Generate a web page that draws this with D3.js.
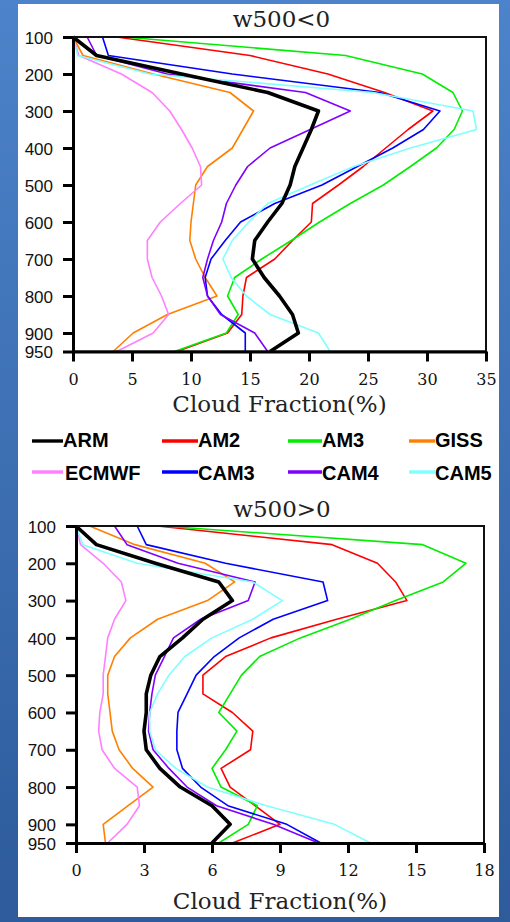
<!DOCTYPE html>
<html>
<head>
<meta charset="utf-8">
<script src="https://cdn.jsdelivr.net/npm/d3@7"></script>
<style>
  html, body { margin: 0; padding: 0; }
  body { width: 510px; height: 922px; overflow: hidden; }
</style>
</head>
<body>
<svg id="chart" width="510" height="922"></svg>
<script>
// Pressure levels (hPa), shared by every profile
const levels = [100, 150, 200, 250, 300, 350, 400, 450, 500, 550, 600, 650, 700, 750, 800, 850, 900, 950];
const yTicks = [100, 200, 300, 400, 500, 600, 700, 800, 900, 950];

// Model / observation names and colours
const models = ["ARM", "AM2", "AM3", "GISS", "ECMWF", "CAM3", "CAM4", "CAM5"];
const modelColors = ["#000000", "#ff0000", "#00ee00", "#ff8000", "#ff80ff", "#0000ff", "#8000ff", "#80ffff"];

// Cloud fraction (%) profiles, ascending regime (w500 < 0)
const armNeg   = [0, 2.0, 9.2, 16.5, 20.8, 20.2, 19.5, 18.8, 18.4, 17.7, 16.5, 15.4, 15.2, 16.2, 17.5, 18.6, 19.1, 16.7];
const am2Neg   = [3.7, 15.0, 21.6, 26.4, 30.5, 28.4, 26.5, 24.6, 22.5, 20.3, 20.2, 18.6, 17.1, 14.7, 14.4, 14.3, 13.1, 8.8];
const am3Neg   = [4.3, 23.1, 29.6, 32.2, 33.0, 32.3, 30.8, 28.6, 26.3, 23.5, 20.9, 18.5, 16.0, 13.7, 13.1, 14.0, 13.0, 8.6];
const gissNeg  = [0, 0.85, 6.8, 13.3, 15.3, 14.4, 13.5, 11.4, 10.4, 10.2, 10.0, 9.9, 10.4, 11.2, 12.2, 8.0, 5.1, 3.4];
const ecmwfNeg = [0, 0.5, 4.1, 6.7, 8.2, 9.2, 10.1, 10.8, 10.9, 9.1, 7.4, 6.3, 6.3, 6.7, 7.5, 8.1, 6.8, 3.7];
const cam3Neg  = [2.5, 3.0, 13.5, 26.0, 31.1, 29.7, 27.1, 24.1, 21.1, 17.1, 14.2, 12.9, 11.7, 11.2, 11.4, 12.6, 14.6, 14.6];
const cam4Neg  = [1.2, 2.0, 8.0, 19.7, 23.5, 20.1, 16.7, 14.8, 13.8, 13.0, 12.6, 11.9, 11.4, 11.0, 11.4, 12.5, 15.4, 16.5];
const cam5Neg  = [0, 0.4, 6.5, 25.4, 33.9, 34.2, 28.6, 23.8, 20.1, 16.5, 14.9, 13.5, 12.7, 13.4, 14.7, 16.7, 20.8, 21.8];

// Cloud fraction (%) profiles, descending regime (w500 > 0)
const armPos   = [0, 0.9, 3.5, 6.3, 6.9, 5.6, 4.7, 3.7, 3.3, 3.1, 3.1, 3.0, 3.1, 3.7, 4.6, 6.0, 6.8, 6.0];
const am2Pos   = [3.6, 11.3, 13.3, 14.1, 14.6, 11.5, 8.6, 6.6, 5.6, 5.6, 6.9, 7.8, 7.7, 6.4, 6.8, 7.9, 9.0, 6.9];
const am3Pos   = [3.8, 15.3, 17.2, 16.2, 14.1, 12.1, 9.9, 8.1, 7.3, 6.8, 6.3, 7.1, 6.6, 6.0, 6.4, 8.0, 7.6, 6.3];
const gissPos  = [0.6, 2.6, 5.7, 7.0, 5.8, 3.6, 2.4, 1.7, 1.4, 1.4, 1.5, 1.6, 1.9, 2.5, 3.4, 2.3, 1.2, 1.3];
const ecmwfPos = [0, 0.2, 1.2, 2.0, 2.2, 1.7, 1.4, 1.3, 1.2, 1.2, 1.05, 1.0, 1.15, 1.7, 2.7, 2.8, 2.25, 1.4];
const cam3Pos  = [2.7, 3.1, 6.6, 10.9, 11.1, 8.7, 7.2, 6.1, 5.3, 4.9, 4.5, 4.45, 4.45, 4.7, 5.5, 6.7, 9.3, 10.8];
const cam4Pos  = [1.7, 2.25, 4.5, 7.9, 7.6, 5.5, 4.3, 3.9, 3.5, 3.35, 3.25, 3.2, 3.4, 4.1, 4.9, 6.2, 8.7, 10.7];
const cam5Pos  = [0, 0.3, 2.7, 7.8, 9.1, 7.8, 6.0, 4.8, 4.1, 3.6, 3.25, 3.25, 3.5, 4.4, 5.8, 8.4, 11.4, 13.0];

const xTicksNeg = [0, 5, 10, 15, 20, 25, 30, 35];
const xTicksPos = [0, 3, 6, 9, 12, 15, 18];

const svg = d3.select("#chart");

// Slide background and white card
const defs = svg.append("defs");
const grad = defs.append("linearGradient").attr("id", "bg").attr("x1", 0).attr("y1", 0).attr("x2", 0).attr("y2", 1);
grad.append("stop").attr("offset", "0%").attr("stop-color", "#4c83ca");
grad.append("stop").attr("offset", "100%").attr("stop-color", "#2d5b9b");
svg.append("rect").attr("width", 510).attr("height", 922).attr("fill", "url(#bg)");
svg.append("rect").attr("x", 18).attr("y", 4).attr("width", 481).attr("height", 913).attr("fill", "#ffffff");

const serif = "'DejaVu Serif', 'Liberation Serif', serif";
const sans = "'Liberation Sans', Arial, sans-serif";

function drawPanel(cfg) {
  const x = d3.scaleLinear().domain(cfg.xDomain).range([cfg.left, cfg.right]);
  const y = d3.scaleLinear().domain([100, 950]).range([cfg.top, cfg.bottom]);
  const g = svg.append("g");

  // Title
  g.append("text")
    .attr("x", (cfg.left + cfg.right) / 2 + 2)
    .attr("y", cfg.titleY)
    .attr("text-anchor", "middle")
    .attr("font-family", serif)
    .attr("font-size", 23)
    .attr("fill", "#222")
    .text(cfg.title);

  // Profiles: models first, observation on top
  const line = d3.line().x(d => x(d[0])).y(d => y(d[1]));
  const order = [1, 2, 3, 4, 5, 6, 7, 0];
  order.forEach(i => {
    const pts = cfg.series[i].map((v, k) => [v, levels[k]]);
    g.append("path")
      .datum(pts)
      .attr("d", line)
      .attr("fill", "none")
      .attr("stroke", modelColors[i])
      .attr("stroke-width", i === 0 ? 3.6 : 1.6)
      .attr("stroke-linejoin", "round");
  });

  // Frame
  g.append("rect")
    .attr("x", cfg.left).attr("y", cfg.top)
    .attr("width", cfg.right - cfg.left).attr("height", cfg.bottom - cfg.top)
    .attr("fill", "none").attr("stroke", "#111").attr("stroke-width", 2);

  // Left axis
  const yAxis = d3.axisLeft(y).tickValues(yTicks).tickSize(10).tickSizeOuter(0).tickPadding(10);
  const ya = g.append("g").attr("transform", `translate(${cfg.left},0)`).call(yAxis);
  ya.select(".domain").attr("stroke", "#000").attr("stroke-width", 3);
  ya.selectAll(".tick line").attr("stroke", "#000").attr("stroke-width", 3);
  ya.selectAll(".tick text")
    .attr("font-family", sans).attr("font-size", 17).attr("fill", "#111")
    .attr("dy", "0.36em");

  // Bottom axis
  const xAxis = d3.axisBottom(x).tickValues(cfg.xTicks).tickSize(10).tickSizeOuter(0).tickPadding(12);
  const xa = g.append("g").attr("transform", `translate(0,${cfg.bottom})`).call(xAxis);
  xa.select(".domain").attr("stroke", "#000").attr("stroke-width", 3);
  xa.selectAll(".tick line").attr("stroke", "#000").attr("stroke-width", 3);
  xa.selectAll(".tick text")
    .attr("font-family", serif).attr("font-size", 16).attr("fill", "#111");

  // Axis label
  g.append("text")
    .attr("x", (cfg.left + cfg.right) / 2)
    .attr("y", cfg.labelY)
    .attr("text-anchor", "middle")
    .attr("font-family", serif)
    .attr("font-size", 23)
    .attr("fill", "#222")
    .text("Cloud Fraction(%)");
}

drawPanel({
  title: "w500<0",
  titleY: 27,
  left: 73, right: 486, top: 37, bottom: 351.5,
  xDomain: [0, 35], xTicks: xTicksNeg,
  labelY: 412,
  series: [armNeg, am2Neg, am3Neg, gissNeg, ecmwfNeg, cam3Neg, cam4Neg, cam5Neg]
});

drawPanel({
  title: "w500>0",
  titleY: 517,
  left: 76, right: 484, top: 526, bottom: 843,
  xDomain: [0, 18], xTicks: xTicksPos,
  labelY: 909,
  series: [armPos, am2Pos, am3Pos, gissPos, ecmwfPos, cam3Pos, cam4Pos, cam5Pos]
});

// Legend: two rows of four entries
const legendCols = [[32, 63], [162, 198], [288, 322], [409, 435]];
const legendRows = [[441, 447], [472, 480]];
const legend = svg.append("g");
models.forEach((name, i) => {
  const col = legendCols[i % 4];
  const row = legendRows[Math.floor(i / 4)];
  legend.append("line")
    .attr("x1", col[0]).attr("x2", col[1])
    .attr("y1", row[0]).attr("y2", row[0])
    .attr("stroke", modelColors[i])
    .attr("stroke-width", 3.4);
  legend.append("text")
    .attr("x", col[1] + (i === 4 ? 2 : 0))
    .attr("y", row[1])
    .attr("font-family", sans)
    .attr("font-weight", "bold")
    .attr("font-size", 20)
    .attr("fill", "#000")
    .text(name);
});
</script>
</body>
</html>
